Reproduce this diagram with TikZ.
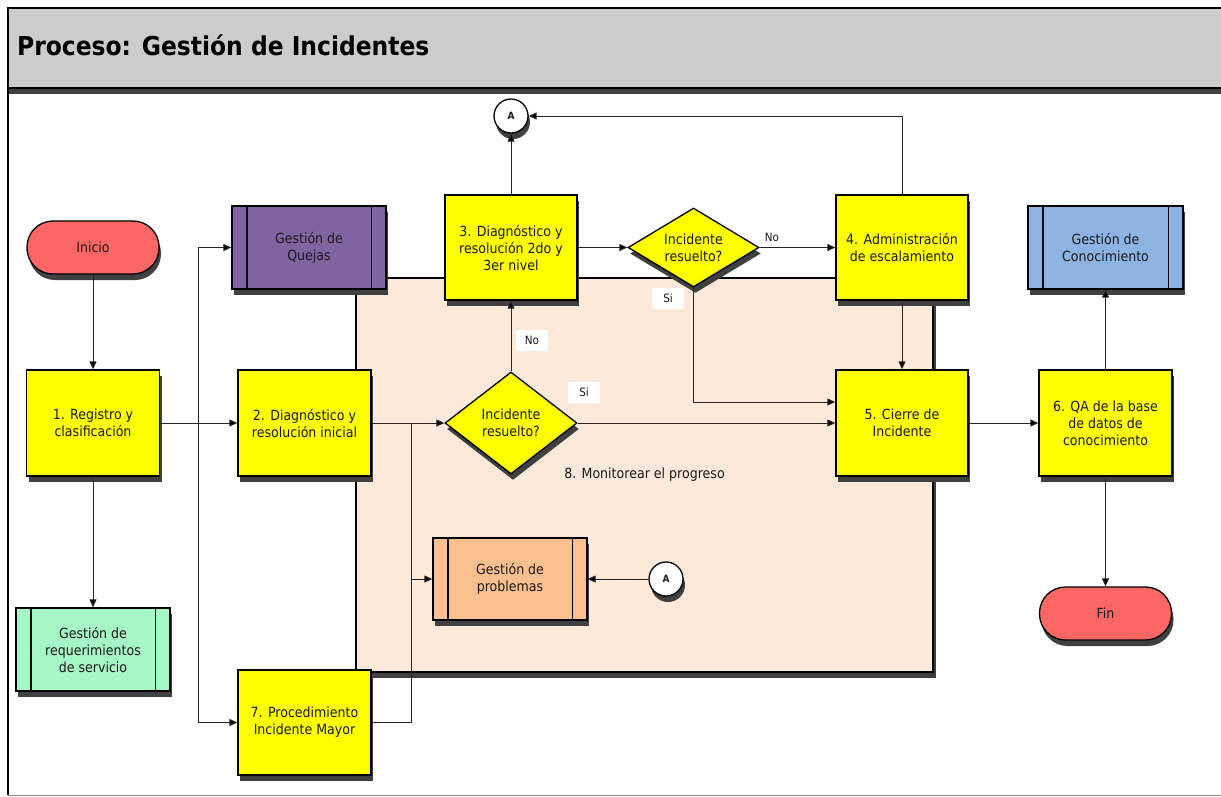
\documentclass[tikz,border=0pt]{standalone}
\usepackage{fontspec}
\setmainfont{DejaVu Sans}[FakeStretch=0.9]
\usetikzlibrary{shapes.geometric,shadows,arrows.meta,calc}

\definecolor{titlegray}{HTML}{CCCCCC}
\definecolor{shadowc}{HTML}{404040}
\definecolor{yel}{HTML}{FFFF00}
\definecolor{termred}{HTML}{FF6666}
\definecolor{purp}{HTML}{8064A2}
\definecolor{mint}{HTML}{A6F7C6}
\definecolor{kblue}{HTML}{8DB3E2}
\definecolor{porange}{HTML}{FAC090}
\definecolor{peach}{HTML}{FDE9D9}
\definecolor{textc}{HTML}{1A1A1A}

\newcommand\bodyfont{\fontsize{14}{17}\selectfont}
\newcommand\titlefont{\fontsize{26}{30}\selectfont\bfseries}
\newcommand\smallfont{\fontsize{11.5}{13}\selectfont}

\begin{document}
\begin{tikzpicture}[x=1pt,y=-1pt,
  shade/.style={drop shadow={shadow xshift=2pt,shadow yshift=-6pt,fill=shadowc,opacity=1}},
  base/.style={draw=black,line width=1.3pt,inner sep=0pt,align=center,
    font=\bodyfont,text=textc,shade},
  task/.style={base,rectangle,fill=yel,minimum width=133pt,minimum height=106pt},
  subproc/.style={base,rectangle,fill=#1,minimum width=154pt,minimum height=83pt},
  term/.style={base,rectangle,rounded corners=26pt,fill=termred,
    minimum width=132pt,minimum height=53pt},
  decision/.style={base,diamond,fill=yel,aspect=1.4},
  conn/.style={draw=black!85,line width=1pt},
  arr/.style={conn,-{Triangle[length=8pt,width=7pt,fill=black]}},
  offpage/.style={base,circle,fill=white,minimum size=34pt,
    font=\fontsize{10}{12}\selectfont\bfseries},
  lbl/.style={fill=white,inner sep=0pt,minimum width=32pt,minimum height=21pt,
    font=\smallfont,text=textc}]

\useasboundingbox (0,0) rectangle (1221,796);
\fill[white] (0,0) rectangle (1221,796);

% page frame and title bar
\fill[titlegray] (8,8) rectangle (1224,88);
\fill[shadowc] (8,88) rectangle (1224,94);
\draw[line width=1.3pt] (1224,8) -- (8,8) -- (8,795);
\draw[line width=1.5pt] (8,88) -- (1224,88);
\draw[black!45,line width=1pt] (8,795) -- (1224,795);
\node[anchor=base west,font=\titlefont,inner sep=0pt] (title) at (17,55)
  {Proceso: Gestión de Incidentes};

% monitoring area
\node[draw=black,line width=1.3pt,fill=peach,inner sep=0pt,
  minimum width=577pt,minimum height=394pt,font=\bodyfont,text=textc,
  drop shadow={shadow xshift=3pt,shadow yshift=-6pt,fill=shadowc,opacity=1}]
  (mon) at (644.5,475) {8. Monitorear el progreso};

% process nodes
\node[term] (ini) at (93,247.5) {Inicio};
\node[task] (n1) at (93,423) {1. Registro y\\clasificación};
\node[subproc=mint] (req) at (93,649.5) {Gestión de\\requerimientos\\de servicio};
\node[task] (n2) at (304.5,423) {2. Diagnóstico y\\resolución inicial};
\node[subproc=purp] (quejas) at (309,247.5) {Gestión de\\Quejas};
\node[task,minimum width=132pt,minimum height=105pt] (n3) at (511,247.5)
  {3. Diagnóstico y\\resolución 2do y\\3er nivel};
\node[decision,minimum width=132pt,minimum height=102pt] (dlow) at (511,423)
  {Incidente\\resuelto?};
\node[decision,aspect=1.66,minimum width=131pt,minimum height=79pt] (dup) at (693.5,247.5)
  {Incidente\\resuelto?};
\node[task,minimum width=132pt,minimum height=105pt] (n4) at (902,247.5)
  {4. Administración\\de escalamiento};
\node[task,minimum width=132pt] (n5) at (902,423)
  {5. Cierre de\\Incidente};
\node[task] (n6) at (1105.5,423) {6. QA de la base\\de datos de\\conocimiento};
\node[subproc=kblue,minimum width=155pt] (know) at (1105.5,247.5) {Gestión de\\Conocimiento};
\node[term] (fin) at (1105.5,613.5) {Fin};
\node[subproc=porange,minimum height=82pt] (prob) at (510,579) {Gestión de\\problemas};
\node[task,minimum height=105pt] (n7) at (304.5,722.5) {7. Procedimiento\\Incidente Mayor};
\node[offpage] (aTop) at (511,116) {A};
\node[offpage] (aBot) at (666,579) {A};

% side bars of the subprocess boxes
\foreach \n in {req,quejas,know,prob}
  \draw[line width=1.3pt]
    ([xshift=15.5pt]\n.north west) -- ([xshift=15.5pt]\n.south west)
    ([xshift=-15.5pt]\n.north east) -- ([xshift=-15.5pt]\n.south east);

% connectors
\coordinate (sp1) at (198,423);
\coordinate (sp2) at (411,423);
\draw[arr] (ini) -- (n1);
\draw[arr] (n1) -- (req);
\draw[arr] (n1) -- (n2);
\draw[arr] (sp1) |- (quejas.west);
\draw[arr] (sp1) |- (n7.west);
\draw[arr] (n2) -- (dlow);
\draw[conn] (sp2) |- (n7.east);
\draw[arr] (sp2 |- prob.west) -- (prob.west);
\draw[arr] (dlow) -- (n5);
\draw[arr] (dlow) -- (n3);
\draw[arr] (n3) -- (dup);
\draw[arr] (dup) -- (n4);
\draw[arr] (dup.south) |- ([yshift=21pt]n5.west);
\draw[arr] (n4) -- (n5);
\draw[arr] (n4.north) |- (aTop.east);
\draw[arr] (n3) -- (aTop);
\draw[arr] (aBot) -- (prob);
\draw[arr] (n5) -- (n6);
\draw[arr] (n6) -- (know);
\draw[arr] (n6) -- (fin);

% branch labels
\node[lbl] (lNo1) at (532,340) {No};
\node[lbl] (lSi1) at (584,392.5) {Si};
\node[lbl] (lSi2) at (668,298.5) {Si};
\node[font=\smallfont,text=textc,inner sep=0pt] (lNo2) at (772,237) {No};
\end{tikzpicture}
\end{document}
